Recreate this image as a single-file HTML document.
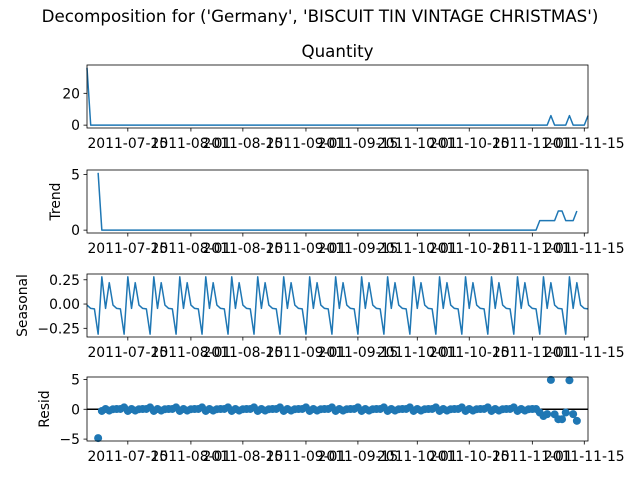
<!DOCTYPE html>
<html><head><meta charset="utf-8"><style>
html,body{margin:0;padding:0;background:#fff;}
svg{display:block;font-family:"DejaVu Sans","Liberation Sans",sans-serif;}
</style></head><body>
<svg id="chart" width="640" height="480" viewBox="0 0 640 480" xmlns="http://www.w3.org/2000/svg">
<rect width="640" height="480" fill="#fff"/>
<text x="320" y="22" text-anchor="middle" font-size="16.7">Decomposition for ('Germany', 'BISCUIT TIN VINTAGE CHRISTMAS')</text>
<text x="337.5" y="57" text-anchor="middle" font-size="16.7">Quantity</text>
</svg>
<script>
// ---- data ----
const startDate = "2011-07-04";
const nDays = 136;
const quantityIdx = [0, 125, 130, 135];
const quantityVals = [36, 6, 6, 6];
const trendVals = [null,null,null,5.14,0,0,0,0,0,0,0,0,0,0,0,0,0,0,0,0,0,0,0,0,0,0,0,0,0,0,0,0,0,0,0,0,0,0,0,0,0,0,0,0,0,0,0,0,0,0,0,0,0,0,0,0,0,0,0,0,0,0,0,0,0,0,0,0,0,0,0,0,0,0,0,0,0,0,0,0,0,0,0,0,0,0,0,0,0,0,0,0,0,0,0,0,0,0,0,0,0,0,0,0,0,0,0,0,0,0,0,0,0,0,0,0,0,0,0,0,0,0,0.857,0.857,0.857,0.857,0.857,1.714,1.714,0.857,0.857,0.857,1.714,null,null,null];
const seasonalPattern = [-0.01,-0.045,-0.05,-0.31,0.28,-0.045,0.22];
const xTickLabels = ["2011-07-15","2011-08-01","2011-08-15","2011-09-01","2011-09-15","2011-10-01","2011-10-15","2011-11-01","2011-11-15"];
const quantityTicks = [0, 20];
const trendTicks = [0, 5];
const seasonalTicks = [-0.25, 0, 0.25];
const seasonalTickLabels = ["\u22120.25","0.00","0.25"];
const residTicks = [-5, 0, 5];
const residTickLabels = ["\u22125","0","5"];

// ---- derived series ----
const quantity = [];
for (let i = 0; i < nDays; i++) quantity.push(0);
quantityIdx.forEach((d, k) => { quantity[d] = quantityVals[k]; });
const seasonal = [];
for (let i = 0; i < nDays; i++) seasonal.push(seasonalPattern[i % seasonalPattern.length]);
const resid = quantity.map((q, i) => trendVals[i] === null ? null : q - trendVals[i] - seasonal[i]);

const svg = document.getElementById('chart');
const NS = "http://www.w3.org/2000/svg";
const X0 = 87, X1 = 588, C = "#1f77b4";
function mk(tag, attrs, parent) {
  const e = document.createElementNS(NS, tag);
  for (const k in attrs) e.setAttribute(k, attrs[k]);
  (parent || svg).appendChild(e);
  return e;
}
const xs = i => X0 + (X1 - X0) * i / (nDays - 1);
function dayOffset(s) { return Math.round((new Date(s + "T00:00:00Z") - new Date(startDate + "T00:00:00Z")) / 86400000); }
function extent(arr) {
  const v = arr.filter(a => a !== null);
  let lo = Math.min(...v), hi = Math.max(...v);
  const m = (hi - lo) * 0.05; return [lo - m, hi + m];
}

function panel(name, top, bottom, series, ticks, tickLabels, ylabel, ylabelX, kind) {
  const g = mk('g', {});
  
  
  const [lo, hi] = extent(series);
  const ys = v => bottom - (v - lo) / (hi - lo) * (bottom - top);
  if (kind === 'line') {
    let d = '', pen = false;
    series.forEach((v, i) => {
      if (v === null) { pen = false; return; }
      d += (pen ? 'L' : 'M') + xs(i).toFixed(2) + ' ' + ys(v).toFixed(2);
      pen = true;
    });
    const p = mk('path', { d: d, fill: 'none', stroke: C, 'stroke-width': 1.5, 'stroke-linejoin': 'round' }, g);
    
    
  } else {
    const zl = mk('line', { x1: X0, x2: X1, y1: ys(0), y2: ys(0), stroke: '#000', 'stroke-width': 1.5 }, g);
    
    
    series.forEach((v, i) => {
      if (v === null) return;
      const c = mk('circle', { cx: xs(i), cy: ys(v), r: 4, fill: C }, g);
      
      
    });
  }
  const fr = mk('rect', { x: X0, y: top, width: X1 - X0, height: bottom - top, fill: 'none', stroke: '#000', 'stroke-width': 0.8 }, g);
  
  
  ticks.forEach((t, k) => {
    const y = ys(t);
    mk('line', { x1: X0 - 3.5, x2: X0, y1: y, y2: y, stroke: '#000', 'stroke-width': 0.8 }, g);
    const tx = mk('text', { x: X0 - 7, y: y + 5, 'text-anchor': 'end', 'font-size': 13.9 }, g);
    
    
    tx.textContent = tickLabels[k];
  });
  xTickLabels.forEach(s => {
    const x = xs(dayOffset(s));
    mk('line', { x1: x, x2: x, y1: bottom, y2: bottom + 3.5, stroke: '#000', 'stroke-width': 0.8 }, g);
    const tx = mk('text', { x: x, y: bottom + 20, 'text-anchor': 'middle', 'font-size': 13.9 }, g);
    
    
    tx.textContent = s;
  });
  if (ylabel) {
    const cy = (top + bottom) / 2;
    const yl = mk('text', { x: ylabelX, y: cy, 'text-anchor': 'middle', 'font-size': 13.9, transform: 'rotate(-90 ' + ylabelX + ' ' + cy + ')' }, g);
    
    
    yl.textContent = ylabel;
  }
}
panel('quantity', 65, 128, quantity, quantityTicks, quantityTicks.map(String), null, 0, 'line');
panel('trend', 170, 233, trendVals, trendTicks, trendTicks.map(String), 'Trend', 60, 'line');
panel('seasonal', 274, 337, seasonal, seasonalTicks, seasonalTickLabels, 'Seasonal', 27, 'line');
panel('resid', 377, 441, resid, residTicks, residTickLabels, 'Resid', 49, 'scatter');
</script>
</body></html>
